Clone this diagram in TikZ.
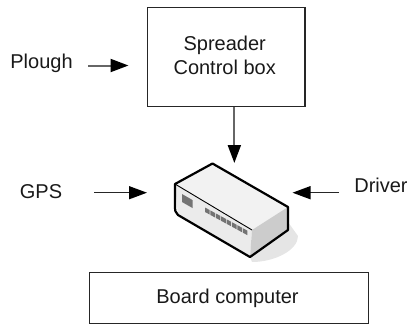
\documentclass[tikz,border=0pt]{standalone}
\usepackage{fontspec}
\setmainfont{Liberation Sans}
\usetikzlibrary{arrows.meta}
\tikzset{
  boxnode/.style={draw=black!85,line width=1.4pt,inner sep=0pt,anchor=north west},
  labelnode/.style={font=\fontsize{20}{24}\selectfont,inner sep=0pt,text=black!90,anchor=base},
  conn/.style={draw=black!60,line width=2pt,-{Triangle[black,length=18pt,width=13pt]}},
  connd/.style={draw=black!85,line width=1.4pt,-{Triangle[black,length=18pt,width=13pt]}},
  edgeline/.style={draw=black,line width=2.2pt,line join=round}
}
\begin{document}
\begin{tikzpicture}[x=1pt,y=-1pt]
\useasboundingbox (0,0) rectangle (407,325);
\node[boxnode,minimum width=157.5pt,minimum height=99pt] (spreader) at (146.7,7) {};
\node[boxnode,minimum width=279pt,minimum height=51pt] (board) at (88.7,272) {};
\node[labelnode] (spr1) at (224.7,50) {Spreader};
\node[labelnode] (spr2) at (224.7,74) {Control box};
\node[labelnode] (boardt) at (227.5,303) {Board computer};
\node[labelnode] (plough) at (41.5,68) {Plough};
\node[labelnode] (gps) at (41,198) {GPS};
\node[labelnode] (driver) at (381,192) {Driver};
\coordinate (ploughS) at (88,65.5);
\coordinate (ploughE) at (128.5,65.5);
\coordinate (gpsS) at (94,192.7);
\coordinate (gpsE) at (147,192.7);
\coordinate (driverS) at (339,192.7);
\coordinate (driverE) at (292.5,192.7);
\coordinate (sprS) at ([xshift=8.2pt]spreader.south);
\coordinate (sprY) at (0,163);
\coordinate (sprE) at (sprS |- sprY);
% shadow
\fill[black!10] (288,222) -- (298,236) .. controls (298,250) and (275,262) .. (252,262) -- (250,257) -- cycle;
% device
\coordinate (dT) at (212.5,163.5);
\coordinate (dL) at (175,184);
\coordinate (dF) at (252,230);
\coordinate (dR) at (288,207);
\coordinate (dBL) at (178,215);
\coordinate (dB) at (250,257);
\coordinate (dBR) at (288,230);
\fill[black!5] (dT) -- (dR) -- (dF) -- (dL) -- cycle;
\fill[black!8] (dL) -- (dF) -- (dB) -- (dBL) -- cycle;
\fill[black!20] (dF) -- (dR) -- (dBR) -- (dB) -- cycle;
\fill[black!55] (182,194) -- (192.5,200) -- (192.5,208) -- (182,202) -- cycle;
\foreach \i in {0,...,7}
  \fill[black!55] ({205+\i*5.4},{207.5+\i*2.95}) -- ++(4.6,2.5) -- ++(0,4.5) -- ++(-4.6,-2.5) -- cycle;
\draw[black,line width=0.9pt] (dL) -- (dF);
\draw[edgeline] (dT) -- (dR) -- (dBR) -- (dB) -- (dBL) .. controls (175,213) and (175,210) .. (175,205) -- (dL) -- cycle;
\draw[conn] (ploughS) -- (ploughE);
\draw[connd] (gpsS) -- (gpsE);
\draw[connd] (driverS) -- (driverE);
\draw[conn] (sprS) -- (sprE);
\end{tikzpicture}
\end{document}
